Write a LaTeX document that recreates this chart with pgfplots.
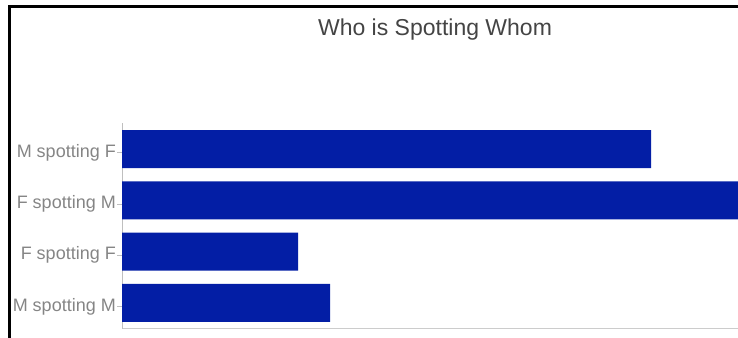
\documentclass[border=0pt]{standalone}
\usepackage{pgfplots}
\pgfplotsset{compat=1.18}
\usepackage{fontspec}
\setmainfont{Liberation Sans}
\definecolor{barblue}{HTML}{031EA5}
\definecolor{ticklab}{HTML}{858585}
\definecolor{titlecol}{HTML}{444444}
\begin{document}
\begin{tikzpicture}[x=1bp,y=1bp]
\path[use as bounding box] (0,0) rectangle (738,337);
\draw[line width=3bp, line cap=rect] (9.5,-2) -- (9.5,330) -- (740,330);
\node[text=titlecol, font=\fontsize{23bp}{27bp}\selectfont] at (435,307.5) {Who is Spotting Whom};
\begin{axis}[
  at={(122bp,8.5bp)}, anchor=south west,
  scale only axis, width=616bp, height=205bp,
  xmin=0, xmax=616, ymin=-0.5, ymax=3.5,
  axis x line*=bottom, axis y line*=left,
  x axis line style={draw=black!20, line width=1.5bp},
  y axis line style={draw=black!25, line width=1bp},
  xtick=\empty,
  ytick={-0.07,0.93,1.93,2.93},
  yticklabels={M spotting M, F spotting F, F spotting M, M spotting F},
  tick align=outside, major tick length=5bp,
  ytick style={draw=black!25, line width=0.8bp},
  yticklabel style={text=ticklab, font=\fontsize{18bp}{21bp}\selectfont, inner sep=1bp},
  xbar, bar width=38bp,
]
\addplot[fill=barblue, draw=none] coordinates {(208,0) (176,1) (625,2) (529,3)};
\end{axis}
\end{tikzpicture}
\end{document}
